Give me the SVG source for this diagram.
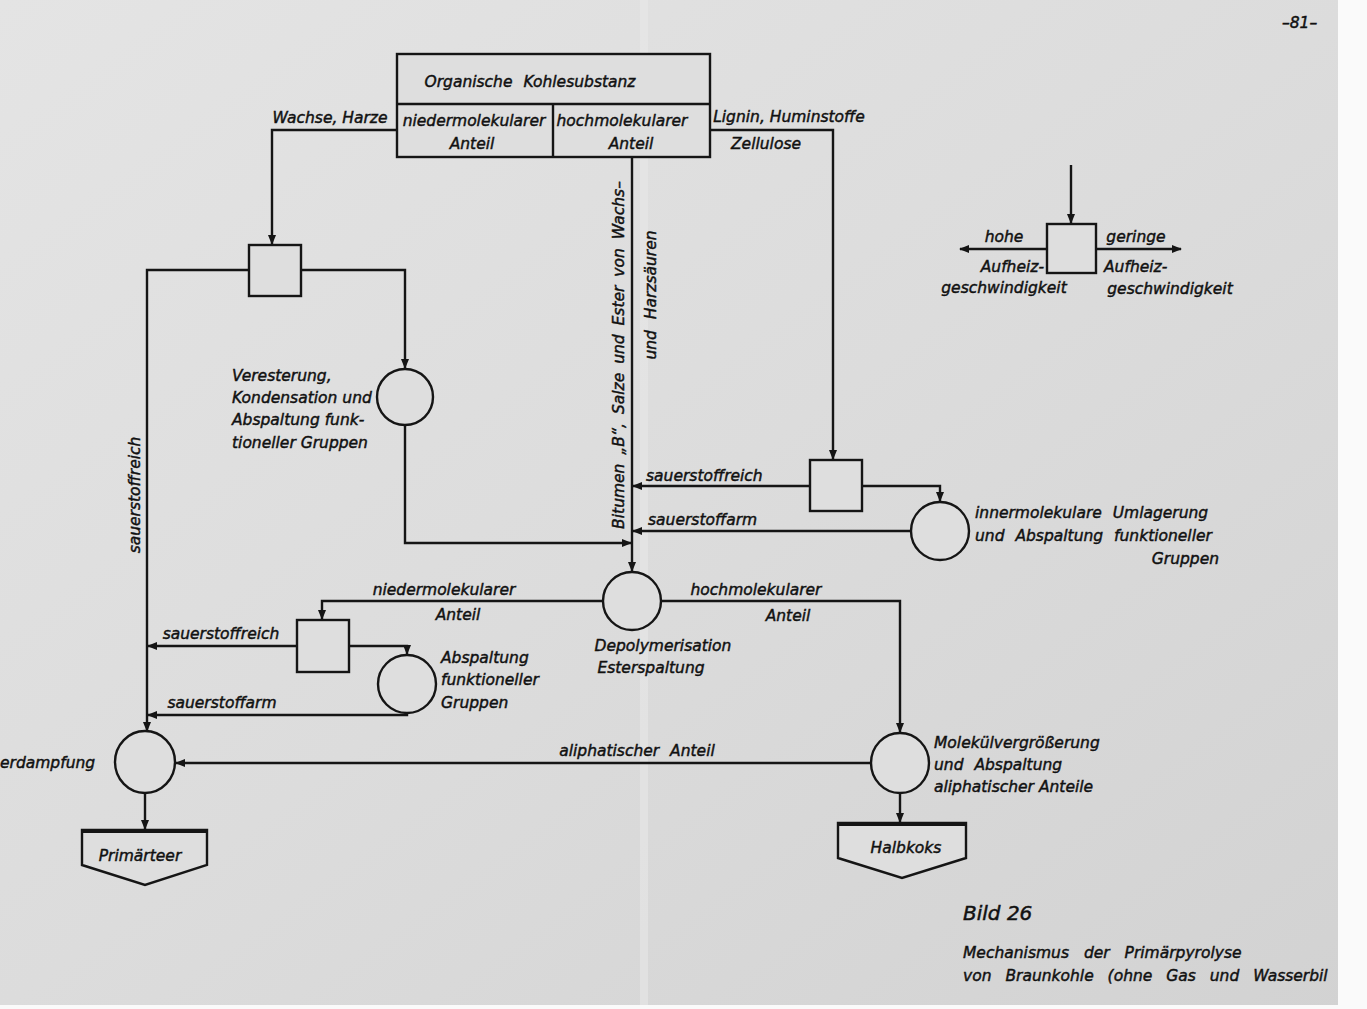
<svg xmlns="http://www.w3.org/2000/svg" width="1367" height="1009" viewBox="0 0 1367 1009">
<defs>
<style>
.ln{fill:none;stroke:#151515;stroke-width:2.4}
.nd{fill:#dedede;stroke:#151515;stroke-width:2.4}
.t{font-family:"DejaVu Sans",sans-serif;font-style:italic;font-size:15.5px;fill:#111;stroke:#111;stroke-width:0.45}
.tb{font-family:"DejaVu Sans",sans-serif;font-style:italic;font-size:20px;fill:#111;stroke:#111;stroke-width:0.5}
.e{text-anchor:end}
.m{text-anchor:middle}
.w{word-spacing:6px}
</style>
<marker id="ar" markerUnits="userSpaceOnUse" markerWidth="10" markerHeight="8" refX="9" refY="4" orient="auto">
<path d="M0,0 L10,4 L0,8 z" fill="#151515"/>
</marker>
<linearGradient id="bg" x1="0" y1="0" x2="1" y2="1">
<stop offset="0" stop-color="#e4e4e4"/>
<stop offset="0.5" stop-color="#dcdcdc"/>
<stop offset="1" stop-color="#d2d2d2"/>
</linearGradient>
</defs>
<rect x="0" y="0" width="1367" height="1009" fill="url(#bg)"/>
<rect x="1338" y="0" width="29" height="1009" fill="#fafafa"/>
<rect x="0" y="1005" width="1367" height="4" fill="#fafafa"/>
<rect x="640" y="0" width="8" height="1005" fill="#e8e8e8" opacity="0.6"/>

<g id="connectors">
<path class="ln" d="M397,130 H272 V244" marker-end="url(#ar)"/>
<path class="ln" d="M710,130 H833 V459" marker-end="url(#ar)"/>
<path class="ln" d="M632,157 V571" marker-end="url(#ar)"/>
<path class="ln" d="M249,270 H147 V731" marker-end="url(#ar)"/>
<path class="ln" d="M301,270 H405 V368" marker-end="url(#ar)"/>
<path class="ln" d="M405,425 V543 H631" marker-end="url(#ar)"/>
<path class="ln" d="M810,486 H633" marker-end="url(#ar)"/>
<path class="ln" d="M862,486 H940 V501" marker-end="url(#ar)"/>
<path class="ln" d="M911,531 H633" marker-end="url(#ar)"/>
<path class="ln" d="M603,601 H322 V619" marker-end="url(#ar)"/>
<path class="ln" d="M661,601 H900 V732" marker-end="url(#ar)"/>
<path class="ln" d="M297,646 H148" marker-end="url(#ar)"/>
<path class="ln" d="M349,646 H407 V654" marker-end="url(#ar)"/>
<path class="ln" d="M407,713 V715 H148" marker-end="url(#ar)"/>
<path class="ln" d="M870,763 H176" marker-end="url(#ar)"/>
<path class="ln" d="M900,793 V822" marker-end="url(#ar)"/>
<path class="ln" d="M145,793 V829" marker-end="url(#ar)"/>
<path class="ln" d="M1071,165 V223" marker-end="url(#ar)"/>
<path class="ln" d="M1047,249 H960" marker-end="url(#ar)"/>
<path class="ln" d="M1096,249 H1181" marker-end="url(#ar)"/>
</g>

<g id="organische-kohlesubstanz">
<rect class="nd" x="397" y="54" width="313" height="103"/>
<line class="ln" x1="397" y1="104" x2="710" y2="104"/>
<line class="ln" x1="553" y1="104" x2="553" y2="157"/>
<text class="t m w" x="530" y="87">Organische Kohlesubstanz</text>
<text class="t m" x="474" y="126">niedermolekularer</text>
<text class="t m" x="472" y="149">Anteil</text>
<text class="t m" x="622" y="126">hochmolekularer</text>
<text class="t m" x="631" y="149">Anteil</text>
</g>

<g id="box-wachse">
<rect class="nd" x="249" y="245" width="52" height="51"/>
</g>
<g id="circle-veresterung">
<circle class="nd" cx="405" cy="397" r="28"/>
<text class="t" x="232" y="381">Veresterung,</text>
<text class="t" x="232" y="403">Kondensation und</text>
<text class="t" x="232" y="425">Abspaltung funk-</text>
<text class="t" x="232" y="448">tioneller Gruppen</text>
</g>
<g id="box-lignin">
<rect class="nd" x="810" y="460" width="52" height="51"/>
</g>
<g id="circle-innermolekular">
<circle class="nd" cx="940" cy="531" r="29"/>
<text class="t w" x="975" y="518">innermolekulare Umlagerung</text>
<text class="t w" x="975" y="541">und Abspaltung funktioneller</text>
<text class="t e" x="1219" y="564">Gruppen</text>
</g>
<g id="circle-depolymerisation">
<circle class="nd" cx="632" cy="601" r="29"/>
<text class="t m" x="663" y="651">Depolymerisation</text>
<text class="t m" x="651" y="673">Esterspaltung</text>
</g>
<g id="box-nieder">
<rect class="nd" x="297" y="620" width="52" height="52"/>
</g>
<g id="circle-abspaltung">
<circle class="nd" cx="407" cy="684" r="29"/>
<text class="t" x="441" y="663">Abspaltung</text>
<text class="t" x="441" y="685">funktioneller</text>
<text class="t" x="441" y="708">Gruppen</text>
</g>
<g id="circle-verdampfung">
<ellipse class="nd" cx="145" cy="762" rx="30" ry="31"/>
<text class="t" x="0" y="768">erdampfung</text>
</g>
<g id="circle-molekuel">
<ellipse class="nd" cx="900" cy="763" rx="29" ry="30"/>
<text class="t" x="934" y="748">Molekülvergrößerung</text>
<text class="t w" x="934" y="770">und Abspaltung</text>
<text class="t" x="934" y="792">aliphatischer Anteile</text>
</g>
<g id="primaerteer">
<path class="nd" d="M82,830 H207 V865 L145,885 L82,865 Z"/>
<line x1="82" y1="831" x2="207" y2="831" stroke="#151515" stroke-width="4"/>
<text class="t m" x="140" y="861">Primärteer</text>
</g>
<g id="halbkoks">
<path class="nd" d="M838,823 H966 V858 L902,878 L838,858 Z"/>
<line x1="838" y1="824" x2="966" y2="824" stroke="#151515" stroke-width="4"/>
<text class="t m" x="906" y="853">Halbkoks</text>
</g>
<g id="legend">
<rect class="nd" x="1047" y="224" width="49" height="49"/>
<text class="t m" x="1004" y="242">hohe</text>
<text class="t e" x="1044" y="272">Aufheiz-</text>
<text class="t m" x="1004" y="293">geschwindigkeit</text>
<text class="t m" x="1136" y="242">geringe</text>
<text class="t" x="1104" y="272">Aufheiz-</text>
<text class="t m" x="1170" y="294">geschwindigkeit</text>
</g>

<g id="labels">
<text class="t m" x="330" y="123">Wachse, Harze</text>
<text class="t m" x="789" y="122">Lignin, Huminstoffe</text>
<text class="t m" x="766" y="149">Zellulose</text>
<text class="t m" transform="translate(624,355) rotate(-90)" style="word-spacing:4px">Bitumen „B“, Salze und Ester von Wachs–</text>
<text class="t m w" transform="translate(656,295) rotate(-90)">und Harzsäuren</text>
<text class="t m" transform="translate(140,495) rotate(-90)">sauerstoffreich</text>
<text class="t" x="646" y="481">sauerstoffreich</text>
<text class="t" x="648" y="525">sauerstoffarm</text>
<text class="t m" x="444" y="595">niedermolekularer</text>
<text class="t m" x="458" y="620">Anteil</text>
<text class="t m" x="756" y="595">hochmolekularer</text>
<text class="t m" x="788" y="621">Anteil</text>
<text class="t m" x="221" y="639">sauerstoffreich</text>
<text class="t m" x="222" y="708">sauerstoffarm</text>
<text class="t m w" x="637" y="756">aliphatischer Anteil</text>
<text class="tb" x="963" y="920">Bild 26</text>
<text class="t" x="963" y="958" style="word-spacing:10px">Mechanismus der Primärpyrolyse</text>
<text class="t" x="963" y="981" style="word-spacing:9px">von Braunkohle (ohne Gas und Wasserbil</text>
<text class="t" x="1282" y="28" fill="#555" stroke="#555">–81–</text>
</g>
</svg>
